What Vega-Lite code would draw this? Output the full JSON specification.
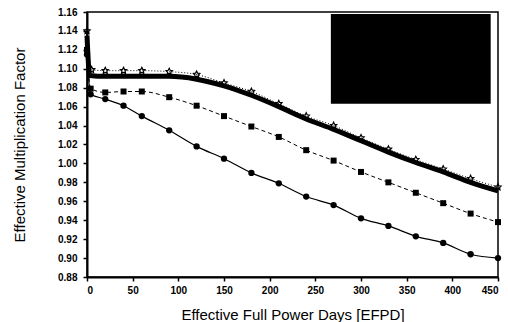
{
  "$schema": "https://vega.github.io/schema/vega-lite/v6.json",
  "width": 411,
  "height": 265,
  "autosize": {"type": "none"},
  "padding": {"left": 87, "top": 12, "right": 10, "bottom": 45},
  "background": "white",
  "config": {
    "view": {"stroke": "black", "strokeWidth": 1.5},
    "axis": {
      "domainColor": "black", "domainWidth": 2, "tickColor": "black", "tickWidth": 1.5, "tickSize": 4,
      "grid": false, "labelFont": "Liberation Sans", "labelFontSize": 10, "labelFontWeight": "bold", "labelColor": "black",
      "titleFont": "Liberation Sans", "titleFontSize": 15, "titleFontWeight": "normal", "titleColor": "black"
    }
  },
  "datasets": {
    "series": [
      {"s": "T", "d": 0, "v": 1.135}, {"s": "T", "d": 3, "v": 1.093}, {"s": "T", "d": 20, "v": 1.092}, {"s": "T", "d": 40, "v": 1.092}, {"s": "T", "d": 60, "v": 1.092}, {"s": "T", "d": 90, "v": 1.092}, {"s": "T", "d": 120, "v": 1.089}, {"s": "T", "d": 150, "v": 1.082}, {"s": "T", "d": 180, "v": 1.072}, {"s": "T", "d": 210, "v": 1.060}, {"s": "T", "d": 240, "v": 1.047}, {"s": "T", "d": 270, "v": 1.036}, {"s": "T", "d": 300, "v": 1.024}, {"s": "T", "d": 330, "v": 1.012}, {"s": "T", "d": 360, "v": 1.001}, {"s": "T", "d": 390, "v": 0.991}, {"s": "T", "d": 420, "v": 0.980}, {"s": "T", "d": 450, "v": 0.971},
      {"s": "X", "d": 0, "v": 1.14}, {"s": "X", "d": 5, "v": 1.099}, {"s": "X", "d": 20, "v": 1.098}, {"s": "X", "d": 40, "v": 1.098}, {"s": "X", "d": 60, "v": 1.098}, {"s": "X", "d": 90, "v": 1.097}, {"s": "X", "d": 120, "v": 1.094}, {"s": "X", "d": 150, "v": 1.085}, {"s": "X", "d": 180, "v": 1.076}, {"s": "X", "d": 210, "v": 1.063}, {"s": "X", "d": 240, "v": 1.050}, {"s": "X", "d": 270, "v": 1.040}, {"s": "X", "d": 300, "v": 1.027}, {"s": "X", "d": 330, "v": 1.015}, {"s": "X", "d": 360, "v": 1.004}, {"s": "X", "d": 390, "v": 0.994}, {"s": "X", "d": 420, "v": 0.984}, {"s": "X", "d": 450, "v": 0.975},
      {"s": "S", "d": 0, "v": 1.12}, {"s": "S", "d": 4, "v": 1.079}, {"s": "S", "d": 20, "v": 1.075}, {"s": "S", "d": 40, "v": 1.076}, {"s": "S", "d": 60, "v": 1.076}, {"s": "S", "d": 90, "v": 1.070}, {"s": "S", "d": 120, "v": 1.061}, {"s": "S", "d": 150, "v": 1.050}, {"s": "S", "d": 180, "v": 1.039}, {"s": "S", "d": 210, "v": 1.028}, {"s": "S", "d": 240, "v": 1.014}, {"s": "S", "d": 270, "v": 1.003}, {"s": "S", "d": 300, "v": 0.991}, {"s": "S", "d": 330, "v": 0.980}, {"s": "S", "d": 360, "v": 0.969}, {"s": "S", "d": 390, "v": 0.958}, {"s": "S", "d": 420, "v": 0.947}, {"s": "S", "d": 450, "v": 0.938},
      {"s": "C", "d": 0, "v": 1.115}, {"s": "C", "d": 4, "v": 1.073}, {"s": "C", "d": 20, "v": 1.068}, {"s": "C", "d": 40, "v": 1.061}, {"s": "C", "d": 60, "v": 1.050}, {"s": "C", "d": 90, "v": 1.035}, {"s": "C", "d": 120, "v": 1.018}, {"s": "C", "d": 150, "v": 1.005}, {"s": "C", "d": 180, "v": 0.990}, {"s": "C", "d": 210, "v": 0.979}, {"s": "C", "d": 240, "v": 0.965}, {"s": "C", "d": 270, "v": 0.956}, {"s": "C", "d": 300, "v": 0.942}, {"s": "C", "d": 330, "v": 0.934}, {"s": "C", "d": 360, "v": 0.923}, {"s": "C", "d": 390, "v": 0.916}, {"s": "C", "d": 420, "v": 0.904}, {"s": "C", "d": 450, "v": 0.900}
    ],
    "legendbox": [{"x": 267, "x2": 442, "y": 1.158, "y2": 1.063}]
  },
  "encoding": {
    "x": {"field": "d", "type": "quantitative", "scale": {"domain": [0, 450], "nice": false}, "axis": {"values": [0, 50, 100, 150, 200, 250, 300, 350, 400, 450], "title": "Effective Full Power Days [EFPD]", "labelPadding": 4, "titlePadding": 12}},
    "y": {"field": "v", "type": "quantitative", "scale": {"domain": [0.88, 1.16], "nice": false, "zero": false}, "axis": {"values": [0.88, 0.9, 0.92, 0.94, 0.96, 0.98, 1.0, 1.02, 1.04, 1.06, 1.08, 1.1, 1.12, 1.14, 1.16], "format": ".2f", "title": "Effective Multiplication Factor", "labelPadding": 6, "titlePadding": 30}}
  },
  "layer": [
    {"mark": {"type": "rule", "color": "#888888", "strokeDash": [1, 3], "strokeWidth": 1}, "encoding": {"y": {"datum": 1.0}}},
    {"data": {"name": "legendbox"}, "mark": {"type": "rect", "color": "black"}, "encoding": {"x": {"field": "x", "type": "quantitative"}, "x2": {"field": "x2"}, "y": {"field": "y", "type": "quantitative"}, "y2": {"field": "y2"}}},
    {"data": {"name": "series"}, "transform": [{"filter": "datum.s === 'C'"}], "mark": {"type": "line", "color": "black", "strokeWidth": 1.2, "interpolate": "monotone"}},
    {"data": {"name": "series"}, "transform": [{"filter": "datum.s === 'C'"}], "mark": {"type": "point", "shape": "circle", "filled": true, "color": "black", "size": 40, "opacity": 1}},
    {"data": {"name": "series"}, "transform": [{"filter": "datum.s === 'S'"}], "mark": {"type": "line", "color": "black", "strokeWidth": 1, "strokeDash": [4, 3], "interpolate": "monotone"}},
    {"data": {"name": "series"}, "transform": [{"filter": "datum.s === 'S'"}], "mark": {"type": "point", "shape": "square", "filled": true, "color": "black", "size": 36, "opacity": 1}},
    {"data": {"name": "series"}, "transform": [{"filter": "datum.s === 'T'"}], "mark": {"type": "line", "color": "black", "strokeWidth": 5, "interpolate": "monotone"}},
    {"data": {"name": "series"}, "transform": [{"filter": "datum.s === 'X'"}], "mark": {"type": "line", "color": "black", "strokeWidth": 1, "strokeDash": [1, 2], "interpolate": "monotone"}},
    {"data": {"name": "series"}, "transform": [{"filter": "datum.s === 'X'"}], "mark": {"type": "point", "shape": "M0,-1L0.29,-0.4L0.95,-0.31L0.48,0.15L0.59,0.81L0,0.5L-0.59,0.81L-0.48,0.15L-0.95,-0.31L-0.29,-0.4Z", "filled": false, "color": "black", "strokeWidth": 1.2, "size": 45, "opacity": 1}}
  ]
}
